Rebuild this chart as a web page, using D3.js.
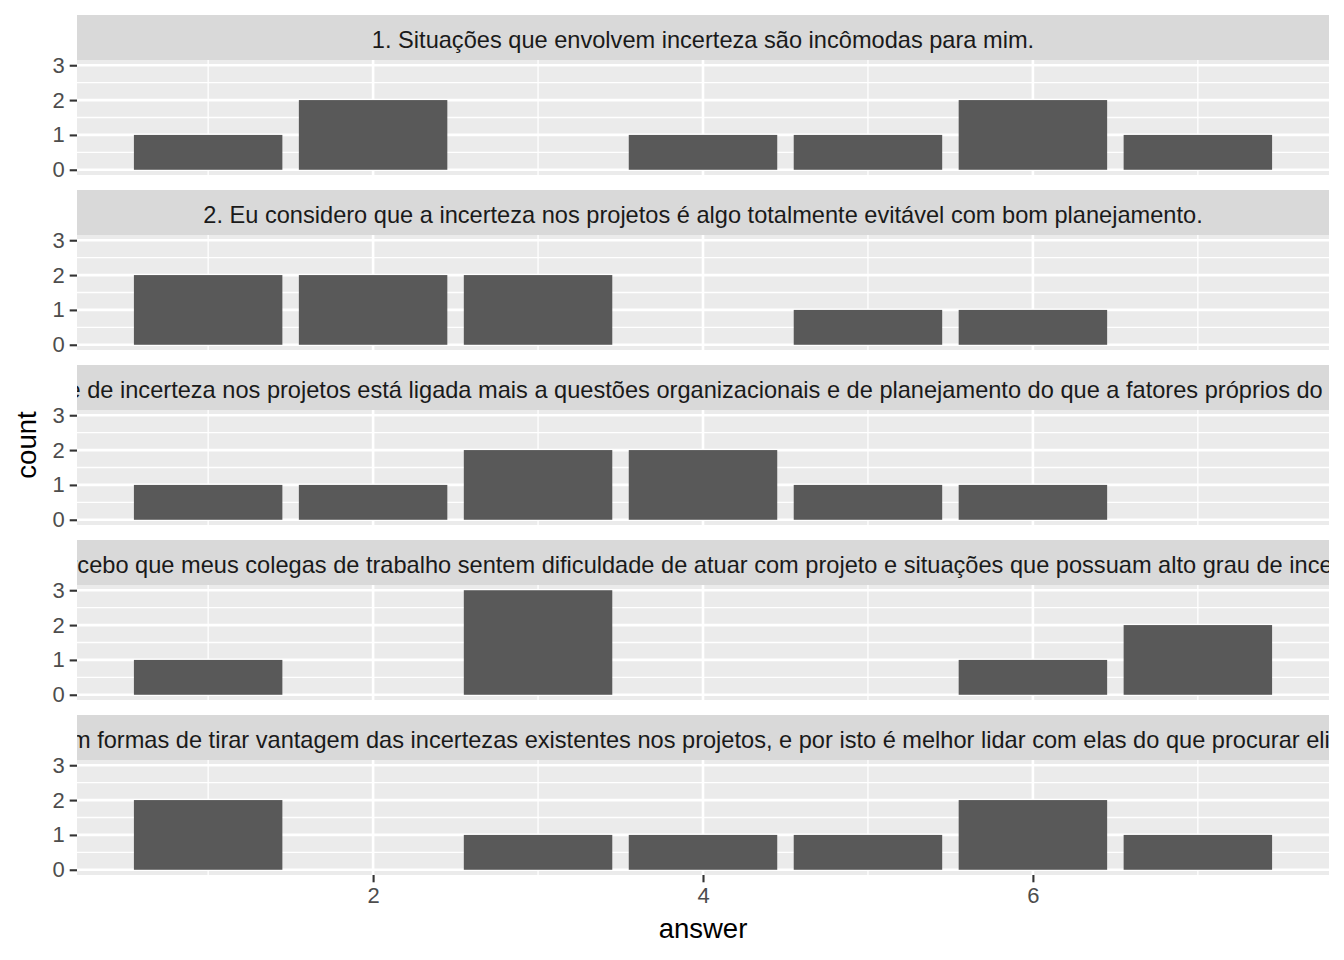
<!DOCTYPE html>
<html><head><meta charset="utf-8">
<script src="https://cdn.jsdelivr.net/npm/d3@7"></script>
<style>body{margin:0;background:#fff}</style>
</head><body>
<svg id="c" width="1344" height="960"></svg>
<script>
const answers = [1,2,3,4,5,6,7];
const questions = [
  "1. Situações que envolvem incerteza são incômodas para mim.",
  "2. Eu considero que a incerteza nos projetos é algo totalmente evitável com bom planejamento.",
  "3. Parte de incerteza nos projetos está ligada mais a questões organizacionais e de planejamento do que a fatores próprios do projeto.",
  "4. Percebo que meus colegas de trabalho sentem dificuldade de atuar com projeto e situações que possuam alto grau de incerteza.",
  "5. Existem formas de tirar vantagem das incertezas existentes nos projetos, e por isto é melhor lidar com elas do que procurar eliminá-las."
];
const counts1 = [1,2,0,1,1,2,1];
const counts2 = [2,2,2,0,1,1,0];
const counts3 = [1,1,2,2,1,1,0];
const counts4 = [1,0,3,0,0,1,2];
const counts5 = [2,0,1,1,1,2,1];
const allCounts = [counts1,counts2,counts3,counts4,counts5];
const yTicks = [0,1,2,3];
const xTicks = [2,4,6];

const svg = d3.select("#c");
const font = "'Liberation Sans', Arial, Helvetica, sans-serif";
const L = 77, R = 1329;
const stripH = 45, panelH = 115, pitch = 175, top0 = 15;

const x = d3.scaleLinear().domain([0.205, 7.795]).range([L, R]);
const y = d3.scaleLinear().domain([-0.15, 3.15]);

allCounts.forEach((counts, i) => {
  const sTop = top0 + i*pitch;
  const pTop = sTop + stripH;
  const pBot = pTop + panelH;
  y.range([pBot, pTop]);
  const g = svg.append("g");
  g.append("rect").attr("x", L).attr("y", sTop).attr("width", R-L).attr("height", stripH).attr("fill", "#D9D9D9");
  const cid = "clip"+i;
  svg.append("clipPath").attr("id", cid).append("rect").attr("x", L).attr("y", sTop).attr("width", R-L).attr("height", stripH);
  g.append("text").attr("clip-path", `url(#${cid})`)
    .attr("x", (L+R)/2).attr("y", sTop+33).attr("text-anchor", "middle")
    .attr("font-family", font).attr("font-size", 23.6).attr("fill", "#1A1A1A")
    .text(questions[i]);
  g.append("rect").attr("x", L).attr("y", pTop).attr("width", R-L).attr("height", panelH).attr("fill", "#EBEBEB");
  const minorY = [0.5,1.5,2.5], minorX = [1,3,5,7];
  g.selectAll(".mny").data(minorY).join("line")
    .attr("x1", L).attr("x2", R).attr("y1", d=>y(d)).attr("y2", d=>y(d))
    .attr("stroke", "#fff").attr("stroke-width", 1.3);
  g.selectAll(".mnx").data(minorX).join("line")
    .attr("y1", pTop).attr("y2", pBot).attr("x1", d=>x(d)).attr("x2", d=>x(d))
    .attr("stroke", "#fff").attr("stroke-width", 1.3);
  g.selectAll(".mjy").data(yTicks).join("line")
    .attr("x1", L).attr("x2", R).attr("y1", d=>y(d)).attr("y2", d=>y(d))
    .attr("stroke", "#fff").attr("stroke-width", 2.6);
  g.selectAll(".mjx").data(xTicks).join("line")
    .attr("y1", pTop).attr("y2", pBot).attr("x1", d=>x(d)).attr("x2", d=>x(d))
    .attr("stroke", "#fff").attr("stroke-width", 2.6);
  g.selectAll(".bar").data(answers.map((a,j)=>({a, c:counts[j]})).filter(d=>d.c>0)).join("rect")
    .attr("x", d=>x(d.a-0.45)).attr("width", d=>x(d.a+0.45)-x(d.a-0.45))
    .attr("y", d=>y(d.c)).attr("height", d=>y(0)-y(d.c)).attr("fill", "#595959");
  const ya = d3.axisLeft(y).tickValues(yTicks).tickSize(7.3).tickPadding(5).tickFormat(d3.format("d"));
  const yg = g.append("g").attr("transform", `translate(${L},0)`).call(ya);
  yg.select(".domain").remove();
  yg.selectAll(".tick line").attr("stroke", "#333333").attr("stroke-width", 2.1);
  yg.selectAll(".tick text").attr("fill", "#4D4D4D").attr("font-size", 22).attr("font-family", font);
  if (i === allCounts.length-1) {
    const xa = d3.axisBottom(x).tickValues(xTicks).tickSize(7.3).tickPadding(5).tickFormat(d3.format("d"));
    const xg = g.append("g").attr("transform", `translate(0,${pBot})`).call(xa);
    xg.select(".domain").remove();
    xg.selectAll(".tick line").attr("stroke", "#333333").attr("stroke-width", 2.1);
    xg.selectAll(".tick text").attr("fill", "#4D4D4D").attr("font-size", 22).attr("font-family", font);
  }
});

svg.append("text").attr("x", (L+R)/2).attr("y", 938).attr("text-anchor", "middle")
  .attr("font-family", font).attr("font-size", 27.5).attr("fill", "#000").text("answer");
svg.append("text").attr("transform", `translate(36,445) rotate(-90)`).attr("text-anchor", "middle")
  .attr("font-family", font).attr("font-size", 27.5).attr("fill", "#000").text("count");
</script>
</body></html>
